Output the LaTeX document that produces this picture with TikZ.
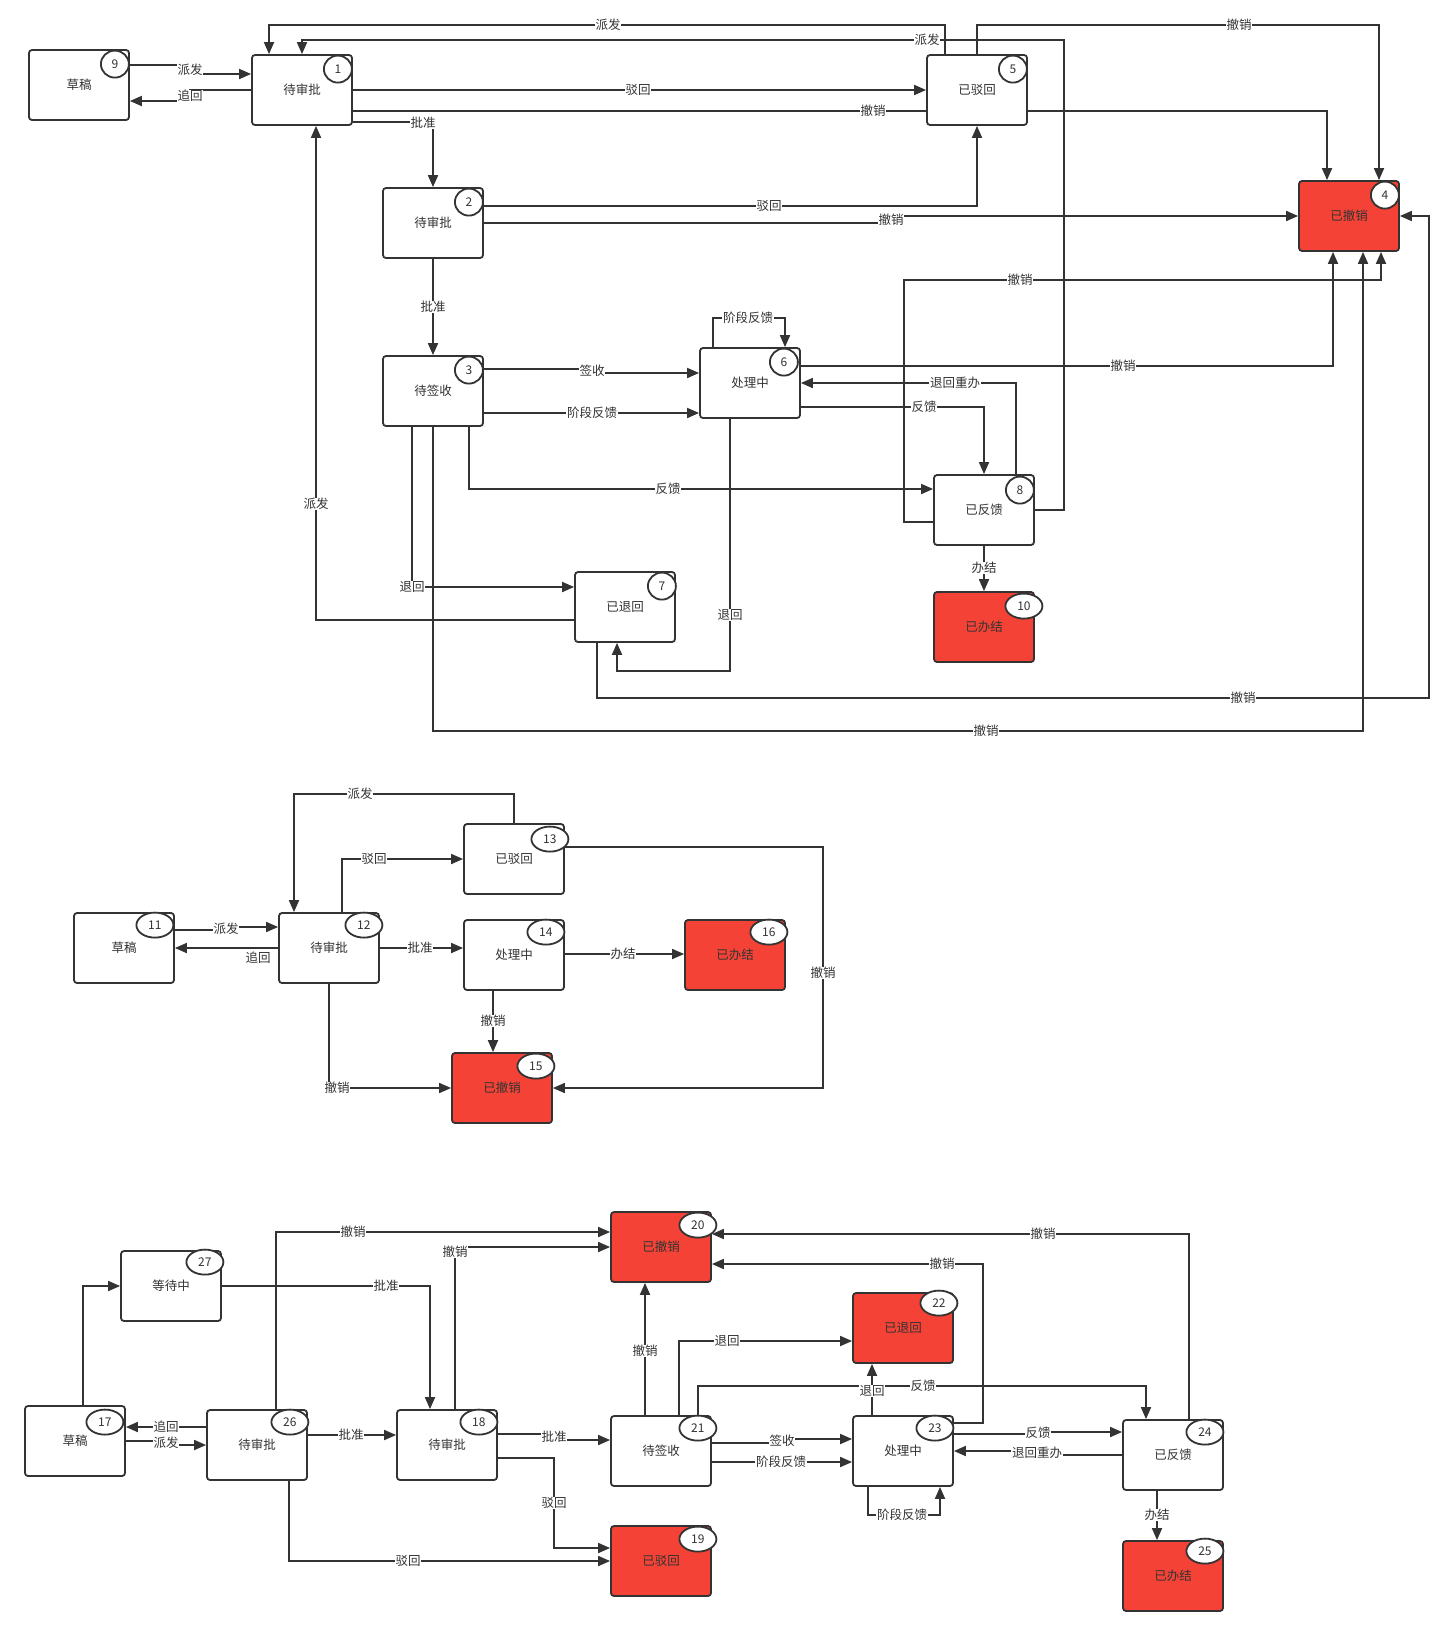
\documentclass[tikz,border=0pt]{standalone}
\usepackage{fontspec}
\setmainfont{Noto Sans CJK SC}
\usetikzlibrary{arrows.meta,calc,shapes.geometric}
\definecolor{lc}{HTML}{333333}
\definecolor{rd}{HTML}{F44336}
\begin{document}
\begin{tikzpicture}[x=1pt,y=-1pt,
  box/.style={draw=lc, line width=1.8pt, rounded corners=3pt, minimum width=100pt, minimum height=70pt, inner sep=0pt, fill=white, text=lc, font=\fontsize{12.5}{14}\selectfont},
  redbox/.style={box, fill=rd},
  badge/.style={draw=lc, line width=1.8pt, ellipse, fill=white, minimum width=28pt, minimum height=27pt, inner sep=0pt, text=lc, font=\fontsize{12}{14}\selectfont},
  badgew/.style={badge, minimum width=37pt, minimum height=25pt},
  arr/.style={draw=lc, line width=1.8pt, -{Triangle[length=12pt,width=10pt]}},
  lab/.style={fill=white, inner sep=0.6pt, text=lc, font=\fontsize{12.5}{14}\selectfont},
]
\useasboundingbox (0,0) rectangle (1454,1636);

% ---------------- nodes: diagram 1
\path
  (79,85)    coordinate (p9)
  (302,90)   coordinate (p1)
  (977,90)   coordinate (p5)
  (433,223)  coordinate (p2)
  (1349,216) coordinate (p4)
  (433,391)  coordinate (p3)
  (750,383)  coordinate (p6)
  (984,510)  coordinate (p8)
  (984,627)  coordinate (p10)
  (625,607)  coordinate (p7);
\node[box,draw=none,fill=none] (n9) at (p9) {};
\node[box,draw=none,fill=none] (n1) at (p1) {};
\node[box,draw=none,fill=none] (n5) at (p5) {};
\node[box,draw=none,fill=none] (n2) at (p2) {};
\node[box,draw=none,fill=none] (n4) at (p4) {};
\node[box,draw=none,fill=none] (n3) at (p3) {};
\node[box,draw=none,fill=none] (n6) at (p6) {};
\node[box,draw=none,fill=none] (n8) at (p8) {};
\node[box,draw=none,fill=none] (n10) at (p10) {};
\node[box,draw=none,fill=none] (n7) at (p7) {};
% diagram 2
\node[box,draw=none,fill=none] (n11) at (124,948) {};
\node[box,draw=none,fill=none] (n12) at (329,948) {};
\node[box,draw=none,fill=none] (n13) at (514,859) {};
\node[box,draw=none,fill=none] (n14) at (514,955) {};
\node[box,draw=none,fill=none] (n15) at (502,1088) {};
\node[box,draw=none,fill=none] (n16) at (735,955) {};
% diagram 3
\node[box,draw=none,fill=none] (n17) at (75,1441) {};
\node[box,draw=none,fill=none] (n27) at (171,1286) {};
\node[box,draw=none,fill=none] (n26) at (257,1445) {};
\node[box,draw=none,fill=none] (n18) at (447,1445) {};
\node[box,draw=none,fill=none] (n20) at (661,1247) {};
\node[box,draw=none,fill=none] (n22) at (903,1328) {};
\node[box,draw=none,fill=none] (n21) at (661,1451) {};
\node[box,draw=none,fill=none] (n23) at (903,1451) {};
\node[box,draw=none,fill=none] (n24) at (1173,1455) {};
\node[box,draw=none,fill=none] (n25) at (1173,1576) {};
\node[box,draw=none,fill=none] (n19) at (661,1561) {};

% ---------------- connectors: diagram 1
\draw[arr] (n9.east |- 0,65) -- (190,65) -- (190,74) -- (n1.west |- 0,74);
\draw[arr] (n1.west |- 0,90) -- (190,90) -- (190,101) -- (n9.east |- 0,101);
\draw[arr] (n1.east |- 0,90) -- (n5.west |- 0,90);
\draw[arr] (n1.east |- 0,111) -| (n4.north -| 1327,0);
\draw[arr] (n1.east |- 0,122) -| (n2.north);
\draw[arr] (n5.north -| 945,0) |- (269,25) -- (n1.north -| 269,0);
\draw[arr] (n8.east) -| (1064,40) -| (n1.north -| 302,0);
\draw[arr] (n5.north -| 977,0) |- (1379,25) -- (n4.north -| 1379,0);
\draw[arr] (n2.east |- 0,206) -| (n5.south);
\draw[arr] (n2.east |- 0,223) -- (891,223) -- (891,216) -- (n4.west);
\draw[arr] (n2.south) -- (n3.north);
\draw[arr] (n3.east |- 0,369) -- (592,369) -- (592,373) -- (n6.west |- 0,373);
\draw[arr] (n3.east |- 0,413) -- (n6.west |- 0,413);
\draw[arr] (n6.north -| 713,0) |- (785,318) -- (n6.north -| 785,0);
\draw[arr] (n6.east |- 0,366) -| (n4.south -| 1333,0);
\draw[arr] (n8.north -| 1016,0) |- (n6.east |- 0,383);
\draw[arr] (n6.east |- 0,407) -| (n8.north);
\draw[arr] (n3.south -| 469,0) |- (n8.west |- 0,489);
\draw[arr] (n8.west |- 0,522) -| (904,280) -| (n4.south -| 1381,0);
\draw[arr] (n8.south) -- (n10.north);
\draw[arr] (n3.south -| 412,0) |- (n7.west |- 0,587);
\draw[arr] (n7.west |- 0,620) -| (n1.south -| 316,0);
\draw[arr] (n3.south) |- (1363,731) -- (n4.south -| 1363,0);
\draw[arr] (n6.south -| 730,0) |- (617,671) -- (n7.south -| 617,0);
\draw[arr] (n7.south -| 597,0) |- (1429,698) |- (n4.east);
% diagram 2
\draw[arr] (n11.east |- 0,930) -- (226,930) -- (226,927) -- (n12.west |- 0,927);
\draw[arr] (n12.west |- 0,948) -- (n11.east |- 0,948);
\draw[arr] (n13.north) |- (294,794) -- (n12.north -| 294,0);
\draw[arr] (n12.north -| 342,0) |- (n13.west);
\draw[arr] (n12.east |- 0,948) -- (n14.west |- 0,948);
\draw[arr] (n14.east |- 0,954) -- (n16.west |- 0,954);
\draw[arr] (n14.south -| 493,0) -- (n15.north -| 493,0);
\draw[arr] (n12.south) |- (n15.west);
\draw[arr] (n13.east |- 0,847) -| (823,1088) -- (n15.east);
% diagram 3
\draw[arr] (n17.north -| 83,0) |- (n27.west);
\draw[arr] (n26.west |- 0,1427) -- (n17.east |- 0,1427);
\draw[arr] (n17.east |- 0,1441) -- (166,1441) -- (166,1445) -- (n26.west |- 0,1445);
\draw[arr] (n27.east) -| (n18.north -| 430,0);
\draw[arr] (n26.east |- 0,1435) -- (n18.west |- 0,1435);
\draw[arr] (n26.north -| 276,0) |- (n20.west |- 0,1232);
\draw[arr] (n18.north -| 455,0) |- (n20.west);
\draw[arr] (n18.east |- 0,1434) -- (554,1434) -- (554,1440) -- (n21.west |- 0,1440);
\draw[arr] (n18.east |- 0,1458) -| (554,1548) -- (n19.west |- 0,1548);
\draw[arr] (n26.south -| 289,0) |- (n19.west |- 0,1561);
\draw[arr] (n21.north -| 645,0) -- (n20.south -| 645,0);
\draw[arr] (n21.north -| 679,0) |- (n22.west |- 0,1341);
\draw[arr] (n21.north -| 698,0) |- (1146,1386) -- (n24.north -| 1146,0);
\draw[arr] (n23.north -| 872,0) -- (n22.south -| 872,0);
\draw[arr] (n21.east |- 0,1443) -- (782,1443) -- (782,1439) -- (n23.west |- 0,1439);
\draw[arr] (n21.east |- 0,1462) -- (n23.west |- 0,1462);
\draw[arr] (n23.south -| 868,0) |- (940,1515) -- (n23.south -| 940,0);
\draw[arr] (n23.east |- 0,1423) -| (983,1264) -- (n20.east |- 0,1264);
\draw[arr] (n24.north -| 1189,0) |- (n20.east |- 0,1234);
\draw[arr] (n23.east |- 0,1434) -- (1038,1434) -- (1038,1432) -- (n24.west |- 0,1432);
\draw[arr] (n24.west |- 0,1455) -- (1037,1455) -- (1037,1451) -- (n23.east |- 0,1451);
\draw[arr] (n24.south -| 1157,0) -- (n25.north -| 1157,0);

% ---------------- visible boxes (drawn over the lines)
\node[box] (m9) at (n9) {草稿};
\node[box] (m1) at (n1) {待审批};
\node[box] (m5) at (n5) {已驳回};
\node[box] (m2) at (n2) {待审批};
\node[redbox] (m4) at (n4) {已撤销};
\node[box] (m3) at (n3) {待签收};
\node[box] (m6) at (n6) {处理中};
\node[box] (m8) at (n8) {已反馈};
\node[redbox] (m10) at (n10) {已办结};
\node[box] (m7) at (n7) {已退回};
\node[box] (m11) at (n11) {草稿};
\node[box] (m12) at (n12) {待审批};
\node[box] (m13) at (n13) {已驳回};
\node[box] (m14) at (n14) {处理中};
\node[redbox] (m15) at (n15) {已撤销};
\node[redbox] (m16) at (n16) {已办结};
\node[box] (m17) at (n17) {草稿};
\node[box] (m27) at (n27) {等待中};
\node[box] (m26) at (n26) {待审批};
\node[box] (m18) at (n18) {待审批};
\node[redbox] (m20) at (n20) {已撤销};
\node[redbox] (m22) at (n22) {已退回};
\node[box] (m21) at (n21) {待签收};
\node[box] (m23) at (n23) {处理中};
\node[box] (m24) at (n24) {已反馈};
\node[redbox] (m25) at (n25) {已办结};
\node[redbox] (m19) at (n19) {已驳回};

% ---------------- number badges
\node[badge] (c9) at ($(n9.north east)+(-15,15)$) {9};
\node[badge] (c1) at ($(n1.north east)+(-15,15)$) {1};
\node[badge] (c5) at ($(n5.north east)+(-15,15)$) {5};
\node[badge] (c2) at ($(n2.north east)+(-15,15)$) {2};
\node[badge] (c4) at ($(n4.north east)+(-15,15)$) {4};
\node[badge] (c3) at ($(n3.north east)+(-15,15)$) {3};
\node[badge] (c6) at ($(n6.north east)+(-17,15)$) {6};
\node[badge] (c8) at ($(n8.north east)+(-15,16)$) {8};
\node[badgew] (c10) at ($(n10.north east)+(-11,15)$) {10};
\node[badge] (c7) at ($(n7.north east)+(-14,15)$) {7};
\node[badgew] (c11) at ($(n11.north east)+(-20,13)$) {11};
\node[badgew] (c12) at ($(n12.north east)+(-16,13)$) {12};
\node[badgew] (c13) at ($(n13.north east)+(-15,16)$) {13};
\node[badgew] (c14) at ($(n14.north east)+(-19,13)$) {14};
\node[badgew] (c15) at ($(n15.north east)+(-17,14)$) {15};
\node[badgew] (c16) at ($(n16.north east)+(-17,13)$) {16};
\node[badgew] (c17) at ($(n17.north east)+(-21,17)$) {17};
\node[badgew] (c27) at ($(n27.north east)+(-17,12)$) {27};
\node[badgew] (c26) at ($(n26.north east)+(-18,13)$) {26};
\node[badgew] (c18) at ($(n18.north east)+(-19,13)$) {18};
\node[badgew] (c20) at ($(n20.north east)+(-14,14)$) {20};
\node[badgew] (c22) at ($(n22.north east)+(-15,11)$) {22};
\node[badgew] (c21) at ($(n21.north east)+(-14,13)$) {21};
\node[badgew] (c23) at ($(n23.north east)+(-19,13)$) {23};
\node[badgew] (c24) at ($(n24.north east)+(-19,13)$) {24};
\node[badgew] (c25) at ($(n25.north east)+(-19,11)$) {25};
\node[badgew] (c19) at ($(n19.north east)+(-14,14)$) {19};

% ---------------- connector labels
\node[lab] (l1) at (190,70) {派发};
\node[lab] (l2) at (190,96) {追回};
\node[lab] (l3) at (638,90) {驳回};
\node[lab] (l4) at (873,111) {撤销};
\node[lab] (l5) at (423,123) {批准};
\node[lab] (l6) at (608,25) {派发};
\node[lab] (l7) at (927,40) {派发};
\node[lab] (l8) at (1239,25) {撤销};
\node[lab] (l9) at (769,206) {驳回};
\node[lab] (l10) at (891,220) {撤销};
\node[lab] (l11) at (433,307) {批准};
\node[lab] (l12) at (592,371) {签收};
\node[lab] (l13) at (592,413) {阶段反馈};
\node[lab] (l14) at (748,318) {阶段反馈};
\node[lab] (l15) at (1123,366) {撤销};
\node[lab] (l16) at (955,383) {退回重办};
\node[lab] (l17) at (924,407) {反馈};
\node[lab] (l18) at (668,489) {反馈};
\node[lab] (l19) at (1020,280) {撤销};
\node[lab] (l20) at (984,568) {办结};
\node[lab] (l21) at (412,587) {退回};
\node[lab] (l22) at (316,504) {派发};
\node[lab] (l23) at (986,731) {撤销};
\node[lab] (l24) at (730,615) {退回};
\node[lab] (l25) at (1243,698) {撤销};
% diagram 2
\node[lab] (l26) at (226,929) {派发};
\node[lab] (l27) at (258,958) {追回};
\node[lab] (l28) at (360,794) {派发};
\node[lab] (l29) at (374,859) {驳回};
\node[lab] (l30) at (420,948) {批准};
\node[lab] (l31) at (623,954) {办结};
\node[lab] (l32) at (493,1021) {撤销};
\node[lab] (l33) at (337,1088) {撤销};
\node[lab] (l34) at (823,973) {撤销};
% diagram 3
\node[lab] (l35) at (166,1427) {追回};
\node[lab] (l36) at (166,1443) {派发};
\node[lab] (l37) at (386,1286) {批准};
\node[lab] (l38) at (351,1435) {批准};
\node[lab] (l39) at (353,1232) {撤销};
\node[lab] (l40) at (455,1252) {撤销};
\node[lab] (l41) at (554,1437) {批准};
\node[lab] (l42) at (554,1503) {驳回};
\node[lab] (l43) at (408,1561) {驳回};
\node[lab] (l44) at (645,1351) {撤销};
\node[lab] (l45) at (727,1341) {退回};
\node[lab] (l46) at (923,1386) {反馈};
\node[lab] (l47) at (872,1391) {退回};
\node[lab] (l48) at (782,1441) {签收};
\node[lab] (l49) at (781,1462) {阶段反馈};
\node[lab] (l50) at (902,1515) {阶段反馈};
\node[lab] (l51) at (942,1264) {撤销};
\node[lab] (l52) at (1043,1234) {撤销};
\node[lab] (l53) at (1038,1433) {反馈};
\node[lab] (l54) at (1037,1453) {退回重办};
\node[lab] (l55) at (1157,1515) {办结};
\end{tikzpicture}
\end{document}
